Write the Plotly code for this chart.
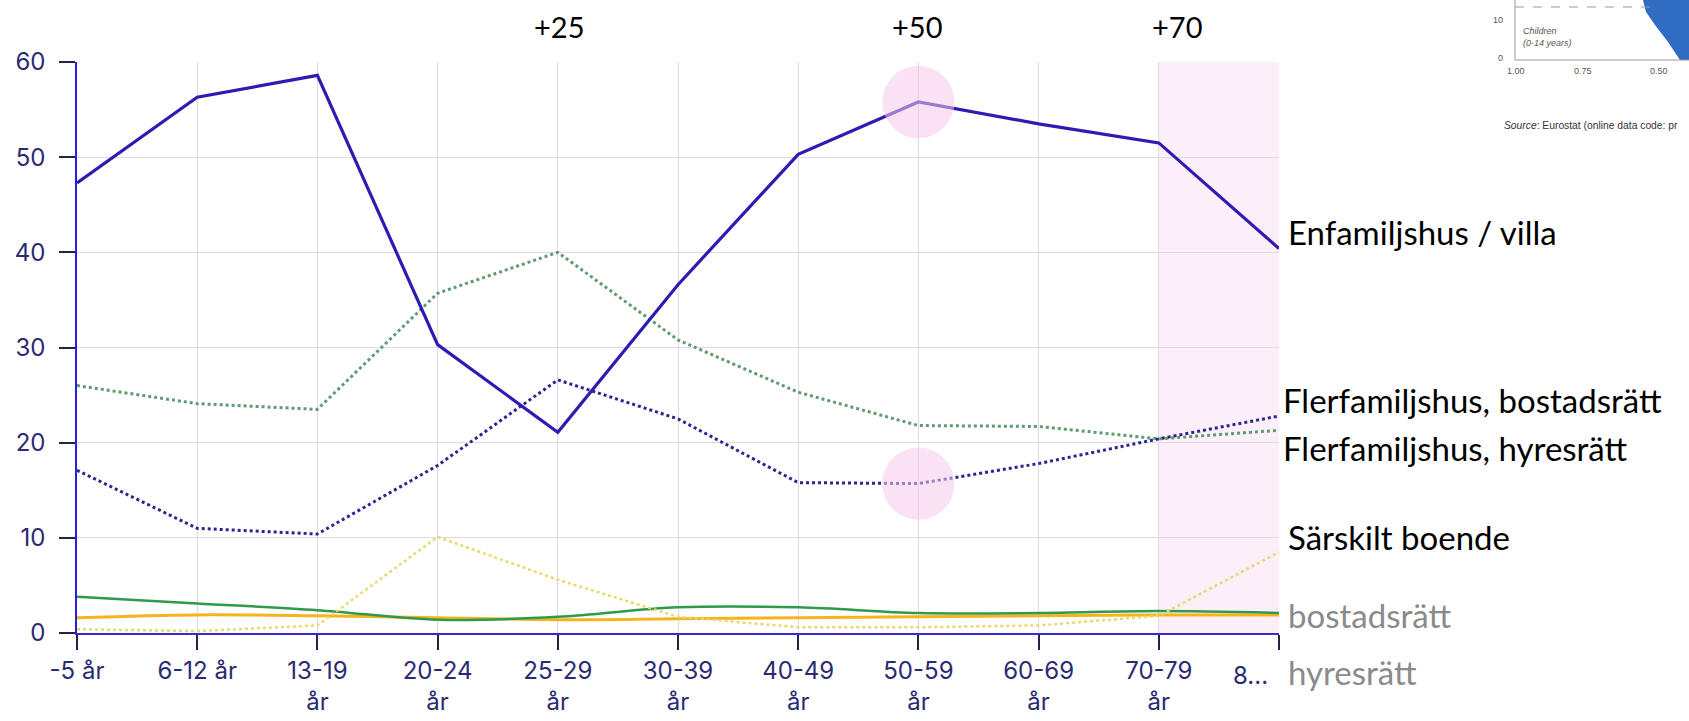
import plotly.graph_objects as go

# age groups (x categories)
age_groups = ["-5 år", "6-12 år", "13-19<br>år", "20-24<br>år", "25-29<br>år", "30-39<br>år",
              "40-49<br>år", "50-59<br>år", "60-69<br>år", "70-79<br>år", "8..."]

# share (%) per housing type
villa = [47.3, 56.3, 58.6, 30.3, 21.1, 36.6, 50.3, 55.8, 53.5, 51.5, 40.4]
fler_dotted_blue = [17.1, 11.0, 10.4, 17.6, 26.6, 22.5, 15.8, 15.7, 17.8, 20.4, 22.8]
fler_dotted_green = [26.0, 24.1, 23.5, 35.7, 40.0, 30.8, 25.3, 21.8, 21.7, 20.4, 21.3]
sarskilt = [0.4, 0.2, 0.8, 10.1, 5.6, 1.7, 0.6, 0.6, 0.8, 1.8, 8.5]
small_green = [3.8, 3.1, 2.4, 1.4, 1.7, 2.7, 2.7, 2.1, 2.1, 2.3, 2.1]
small_orange = [1.6, 1.9, 1.8, 1.6, 1.4, 1.5, 1.6, 1.7, 1.8, 1.9, 1.9]

top_marks = ["+25", "+50", "+70"]
right_labels = ["Enfamiljshus / villa", "Flerfamiljshus, bostadsrätt", "Flerfamiljshus, hyresrätt",
                "Särskilt boende", "bostadsrätt", "hyresrätt"]

W, H = 1689, 721
L, R, T, B = 77, 1279, 62, 633


def px(x):
    return (x - L) / (R - L)


def py(y):
    return (B - y) / (B - T)


fig = go.Figure()

fig.add_trace(go.Scatter(x=age_groups, y=small_orange, mode="lines", line_shape="spline",
                         line=dict(color="#f6b31e", width=3)))
fig.add_trace(go.Scatter(x=age_groups, y=small_green, mode="lines", line_shape="spline",
                         line=dict(color="#2f9a4c", width=2.5)))
fig.add_trace(go.Scatter(x=age_groups, y=sarskilt, mode="lines",
                         line=dict(color="#e9d86e", width=2.5, dash="dot")))
fig.add_trace(go.Scatter(x=age_groups, y=fler_dotted_green, mode="lines",
                         line=dict(color="#5f9b70", width=3, dash="dot")))
fig.add_trace(go.Scatter(x=age_groups, y=fler_dotted_blue, mode="lines",
                         line=dict(color="#2b2590", width=3, dash="dot")))
fig.add_trace(go.Scatter(x=age_groups, y=villa, mode="lines",
                         line=dict(color="#2e1bb2", width=3.2)))

# shaded last interval
fig.add_shape(type="rect", xref="x", yref="y", x0=9, x1=10, y0=0, y1=60,
              fillcolor="rgba(250,220,244,0.45)", line_width=0, layer="below")

# highlight circles at 50-59
for val in [villa[7], fler_dotted_blue[7]]:
    fig.add_shape(type="circle", xref="x", yref="y", x0=7 - 0.3, x1=7 + 0.3,
                  y0=val - 3.8, y1=val + 3.8, fillcolor="rgba(245,200,234,0.55)",
                  line_width=0, layer="above")

annotations = []
# last tick label sits left of its tick in the original
annotations.append(dict(text=age_groups[-1], x=px(1250), y=py(675), xref="paper", yref="paper",
                        showarrow=False, xanchor="center", yanchor="middle",
                        font=dict(family="Inter", size=24, color="#2b2a73")))

for text, x in zip(top_marks, [559, 917, 1177]):
    annotations.append(dict(text=text, x=px(x), y=py(27), xref="paper", yref="paper",
                            showarrow=False, xanchor="center", yanchor="middle",
                            font=dict(family="Lato", size=29, color="#000000")))

for text, (x, y), col in zip(right_labels,
                             [(1286, 232), (1281, 400), (1281, 448), (1286, 537), (1286, 615), (1286, 672)],
                             ["#000000"] * 4 + ["#8a8a8a"] * 2):
    annotations.append(dict(text=text, x=px(x), y=py(y), xref="paper", yref="paper",
                            showarrow=False, xanchor="left", yanchor="middle",
                            font=dict(family="Lato", size=33, color=col)))

# pasted fragment from another chart (top right)
frag = [("10", 1505, 20, "right", False), ("0", 1505, 58, "right", False),
        ("Children", 1521, 31, "left", True), ("(0-14 years)", 1521, 43, "left", True),
        ("1.00", 1516, 71, "center", False), ("0.75", 1583, 71, "center", False),
        ("0.50", 1659, 71, "center", False)]
for text, x, y, anc, it in frag:
    annotations.append(dict(text=f"<i>{text}</i>" if it else text, x=px(x), y=py(y),
                            xref="paper", yref="paper", showarrow=False,
                            xanchor=anc, yanchor="middle",
                            font=dict(family="Liberation Sans", size=9, color="#555555")))
annotations.append(dict(text="<i>Source</i>: Eurostat (online data code: pr", x=px(1502), y=py(125),
                        xref="paper", yref="paper", showarrow=False, xanchor="left",
                        yanchor="middle", font=dict(family="Liberation Sans", size=10.3, color="#333333")))

fig.add_shape(type="path", xref="paper", yref="paper",
              path=f"M {px(1643)},{py(0)} L {px(1646)},{py(12)} L {px(1655)},{py(25)} "
                   f"L {px(1668)},{py(42)} L {px(1680)},{py(60)} L {px(1689)},{py(60)} "
                   f"L {px(1689)},{py(0)} Z",
              fillcolor="#2f6cc2", line_width=0)
fig.add_shape(type="line", xref="paper", yref="paper", x0=px(1515), x1=px(1689), y0=py(60), y1=py(60),
              line=dict(color="#999999", width=1))
fig.add_shape(type="line", xref="paper", yref="paper", x0=px(1515), x1=px(1515), y0=py(0), y1=py(60),
              line=dict(color="#999999", width=1))
fig.add_shape(type="line", xref="paper", yref="paper", x0=px(1515), x1=px(1650), y0=py(7), y1=py(7),
              line=dict(color="#999999", width=1, dash="dash"))

fig.update_layout(
    width=W, height=H,
    margin=dict(l=L, r=W - R, t=T, b=H - B),
    paper_bgcolor="white", plot_bgcolor="white",
    showlegend=False,
    annotations=annotations,
    font=dict(family="Inter", size=24, color="#2b2a73"),
)
fig.update_xaxes(range=[0, 10], showgrid=True, gridcolor="#dcdaea", gridwidth=1,
                 showline=True, linecolor="#3a2bd0", linewidth=2, automargin=False,
                 tickmode="array", tickvals=age_groups, ticktext=age_groups[:-1] + [""],
                 ticks="outside", ticklen=15, tickcolor="#22224a", tickwidth=1.5,
                 tickfont=dict(family="Inter", size=24, color="#2b2a73"))
fig.update_yaxes(range=[0, 60], dtick=10, showgrid=True, gridcolor="#dcdaea", gridwidth=1,
                 zeroline=False, showline=True, linecolor="#2a1fd8", linewidth=1.5,
                 ticks="outside", ticklen=16, tickcolor="#22224a", tickwidth=1.5,
                 ticklabelstandoff=9, automargin=False,
                 tickfont=dict(family="Inter", size=24, color="#2b2a73"))

fig.write_html("out.html", post_script="document.body.style.margin='0';",
               config={"displayModeBar": False})
